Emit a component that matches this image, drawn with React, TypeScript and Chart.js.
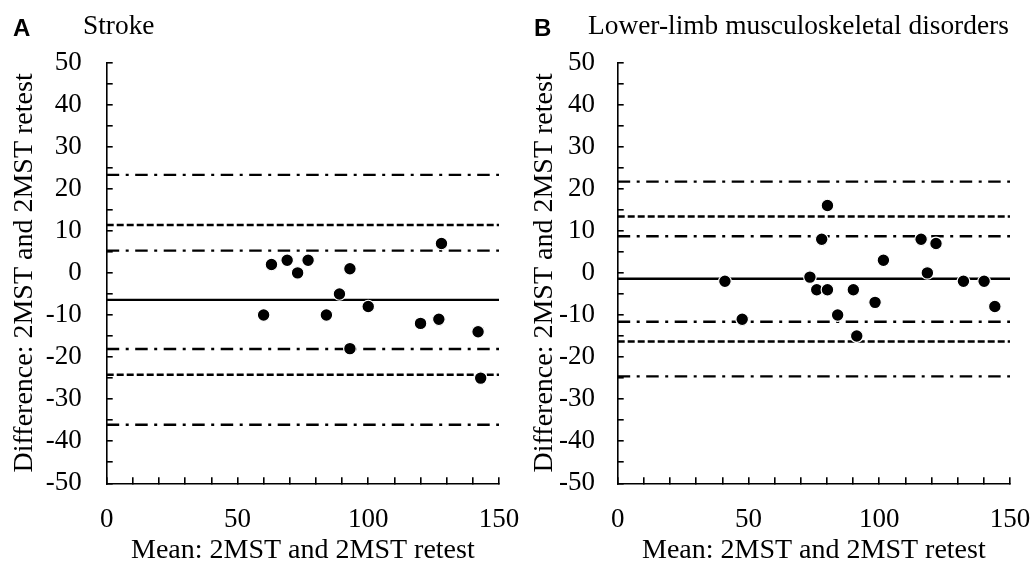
import React, { useEffect, useRef } from "react";
import { Chart, registerables } from "chart.js";

Chart.register(...registerables);

// ---- Data ----
const strokeMeans = [60, 63, 69, 73, 77, 84, 89, 93, 93, 100, 120, 127, 128, 142, 143];
const strokeDiffs = [-10, 2, 3, 0, 3, -10, -5, 1, -18, -8, -12, -11, 7, -14, -25];
const strokeLineValues = [23.3, 11.4, 5.3, -6.4, -18.1, -24.2, -36.1];

const limbMeans = [41, 47.6, 73.5, 76.1, 80.2, 78, 80.2, 84.1, 90.1, 91.4, 98.4, 101.6, 116, 118.4, 121.7, 132.2, 140.1, 144.2];
const limbDiffs = [-2, -11, -1, -4, -4, 8, 16, -10, -4, -15, -7, 3, 8, 0, 7, -2, -2, -8];
const limbLineValues = [21.7, 13.4, 8.7, -1.4, -11.6, -16.3, -24.6];

const lineKinds = ["dashdot", "dashed", "dashdot", "solid", "dashdot", "dashed", "dashdot"];
const lineSpan = [0, 150];

const xTickLabels = [0, 50, 100, 150];
const yTickLabels = [-50, -40, -30, -20, -10, 0, 10, 20, 30, 40, 50];

const xTitle = "Mean: 2MST and 2MST retest";
const yTitle = "Difference: 2MST and 2MST retest";

const SERIF = '"Liberation Serif", "Times New Roman", serif';

const dashFor: Record<string, number[]> = {
  dashdot: [12.5, 6.5, 3, 6.5],
  dashed: [7, 3],
  solid: [],
};

type PanelProps = {
  letter: string;
  title: string;
  means: number[];
  diffs: number[];
  lines: number[];
  canvasLeft: number;
  canvasWidth: number;
  yWidth: number;
  padRight: number;
  yTickPad: number;
  letterLeft: number;
  titleLeft: number;
};

function Panel(p: PanelProps) {
  const ref = useRef<HTMLCanvasElement | null>(null);
  useEffect(() => {
    if (!ref.current) return;
    const datasets: any[] = [
      {
        type: "scatter",
        data: p.means.map((m, i) => ({ x: m, y: p.diffs[i] })),
        backgroundColor: "#000",
        borderColor: "#fff",
        borderWidth: 1.2,
        pointRadius: 6.3,
        pointHoverRadius: 6.3,
      },
    ];
    p.lines.forEach((v, i) => {
      datasets.push({
        type: "line",
        data: lineSpan.map((x) => ({ x, y: v })),
        borderColor: "#000",
        borderWidth: 2.4,
        borderDash: dashFor[lineKinds[i]],
        pointRadius: 0,
        fill: false,
      });
    });
    const chart = new Chart(ref.current, {
      type: "scatter",
      data: { datasets },
      options: {
        animation: false,
        responsive: false,
        layout: { padding: { left: 0, right: p.padRight, top: 62.5, bottom: 0 } },
        plugins: { legend: { display: false }, tooltip: { enabled: false } },
        scales: {
          x: {
            type: "linear",
            min: 0,
            max: 150,
            afterFit: (s: any) => {
              s.height = 565 - 483.3;
              s.paddingLeft = 0;
              s.paddingRight = 0;
            },
            border: { color: "#000", width: 1.6 },
            grid: { drawOnChartArea: false, drawTicks: true, tickLength: -6, color: "#000", lineWidth: 1.6 },
            ticks: {
              stepSize: 10,
              autoSkip: false,
              maxRotation: 0,
              padding: 26,
              color: "#000",
              font: { family: SERIF, size: 27 },
              callback: (v: any) => (xTickLabels.includes(Number(v)) ? String(v) : ""),
            },
            title: {
              display: true,
              text: xTitle,
              color: "#000",
              font: { family: SERIF, size: 28, lineHeight: 1 },
              padding: { top: 0, bottom: 0 },
            },
          },
          y: {
            type: "linear",
            min: -50,
            max: 50,
            afterFit: (s: any) => {
              s.width = p.yWidth;
            },
            border: { color: "#000", width: 1.6 },
            grid: { drawOnChartArea: false, drawTicks: true, tickLength: -6, color: "#000", lineWidth: 1.6 },
            ticks: {
              stepSize: 5,
              autoSkip: false,
              padding: p.yTickPad,
              color: "#000",
              font: { family: SERIF, size: 27 },
              callback: (v: any) => (yTickLabels.includes(Number(v)) ? String(v) : ""),
            },
            title: {
              display: true,
              text: yTitle,
              color: "#000",
              font: { family: SERIF, size: 28 },
              padding: { top: 8, bottom: 0 },
            },
          },
        },
      } as any,
    });
    return () => chart.destroy();
  }, []);

  return (
    <>
      <canvas
        ref={ref}
        width={p.canvasWidth}
        height={565}
        style={{ position: "absolute", left: p.canvasLeft, top: 0, width: p.canvasWidth, height: 565 }}
      />
      <span
        style={{
          position: "absolute",
          left: p.letterLeft,
          top: 15.7,
          fontFamily: '"Liberation Sans", Arial, sans-serif',
          fontWeight: "bold",
          fontSize: 24,
          lineHeight: "24px",
          whiteSpace: "nowrap",
        }}
      >
        {p.letter}
      </span>
      <span
        style={{
          position: "absolute",
          left: p.titleLeft,
          top: 11.5,
          fontFamily: SERIF,
          fontSize: 27.4,
          lineHeight: "27px",
          whiteSpace: "nowrap",
        }}
      >
        {p.title}
      </span>
    </>
  );
}

export default function App() {
  return (
    <div
      style={{
        position: "absolute",
        left: 0,
        top: 0,
        width: 1035,
        height: 565,
        background: "#fff",
        overflow: "hidden",
      }}
    >
      <Panel
        letter="A"
        title="Stroke"
        means={strokeMeans}
        diffs={strokeDiffs}
        lines={strokeLineValues}
        canvasLeft={0}
        canvasWidth={520}
        yWidth={106.7}
        padRight={21}
        yTickPad={31}
        letterLeft={13}
        titleLeft={83}
      />
      <Panel
        letter="B"
        title="Lower-limb musculoskeletal disorders"
        means={limbMeans}
        diffs={limbDiffs}
        lines={limbLineValues}
        canvasLeft={520}
        canvasWidth={515}
        yWidth={97.7}
        padRight={25}
        yTickPad={28.7}
        letterLeft={534}
        titleLeft={588}
      />
    </div>
  );
}
